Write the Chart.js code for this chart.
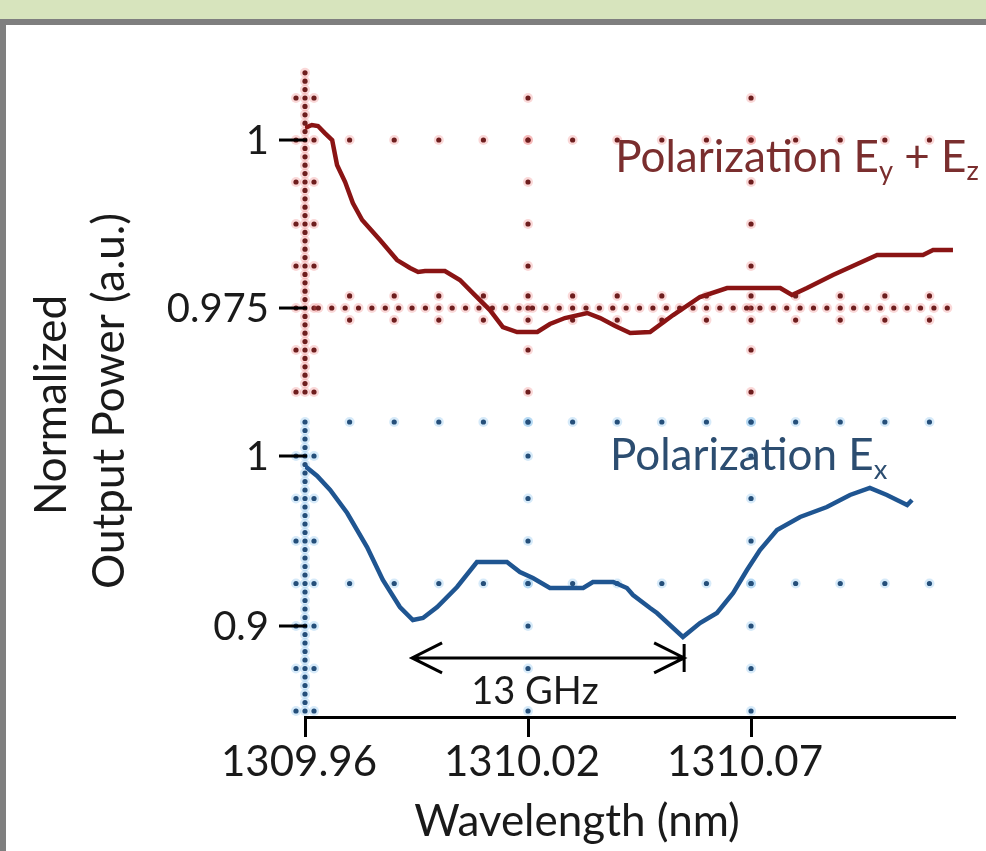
<!DOCTYPE html>
<html>
<head>
<meta charset="utf-8">
<script src="https://cdn.jsdelivr.net/npm/chart.js@4.4.1/dist/chart.umd.min.js"></script>
<style>
  html, body { margin: 0; padding: 0; }
  body { width: 986px; height: 851px; background: #d7e4bd; position: relative; overflow: hidden; }
  #frame { position: absolute; left: 0; top: 19px; right: -10px; bottom: -10px; background: #fff;
           border-top: 6px solid #7f7f7f; border-left: 6px solid #7f7f7f; }
  #wrap { position: absolute; left: 0; top: 0; width: 986px; height: 851px; }
</style>
</head>
<body>
<div id="frame"></div>
<div id="wrap"><canvas id="c" width="986" height="851"></canvas></div>
<script>
// Ausgangsleistung vs. Wellenlaenge, zwei Polarisationen

const xTickValues = [1309.96, 1310.015, 1310.07];
const xTickLabels = ['1309.96', '1310.02', '1310.07'];

const topTickValues = [1, 0.975];
const topTickLabels = ['1', '0.975'];
const botTickValues = [1, 0.9];
const botTickLabels = ['1', '0.9'];

// Polarisation Ey + Ez (rot)
const redWl = [1309.9600, 1309.9617, 1309.9632, 1309.9649, 1309.9667, 1309.9679, 1309.9699, 1309.9718,
  1309.9741, 1309.9785, 1309.9827, 1309.9859, 1309.9879, 1309.9896, 1309.9945, 1309.9982, 1310.0019,
  1310.0056, 1310.0088, 1310.0123, 1310.0173, 1310.0204, 1310.0241, 1310.0296, 1310.0328, 1310.0365,
  1310.0402, 1310.0451, 1310.0508, 1310.0574, 1310.0641, 1310.0772, 1310.0801, 1310.0838, 1310.0902,
  1310.1011, 1310.1124, 1310.1149, 1310.1198];
const redPow = [1.00179, 1.00223, 1.00208, 1.00104, 1.00000, 0.99628, 0.99375, 0.99063,
  0.98810, 0.98512, 0.98214, 0.98095, 0.98036, 0.98051, 0.98051, 0.97917, 0.97693,
  0.97470, 0.97217, 0.97143, 0.97143, 0.97262, 0.97351, 0.97426, 0.97351, 0.97232,
  0.97128, 0.97143, 0.97396, 0.97664, 0.97798, 0.97798, 0.97693, 0.97798, 0.97991,
  0.98289, 0.98289, 0.98363, 0.98363];

// Polarisation Ex (blau)
const blueWl = [1309.9600, 1309.9630, 1309.9662, 1309.9704, 1309.9753, 1309.9792, 1309.9834, 1309.9866,
  1309.9891, 1309.9926, 1309.9975, 1310.0024, 1310.0098, 1310.0130, 1310.0162, 1310.0204, 1310.0286,
  1310.0310, 1310.0360, 1310.0394, 1310.0409, 1310.0451, 1310.0468, 1310.0532, 1310.0574, 1310.0616,
  1310.0656, 1310.0690, 1310.0722, 1310.0764, 1310.0821, 1310.0887, 1310.0944, 1310.0993, 1310.1035,
  1310.1085, 1310.1097];
const bluePow = [0.99412, 0.98824, 0.98000, 0.96647, 0.94647, 0.92706, 0.91118, 0.90353,
  0.90471, 0.91118, 0.92294, 0.93765, 0.93765, 0.93176, 0.92824, 0.92235, 0.92235,
  0.92588, 0.92588, 0.92235, 0.91824, 0.91059, 0.90765, 0.89353, 0.90176, 0.90765,
  0.91941, 0.93294, 0.94471, 0.95647, 0.96412, 0.97000, 0.97706, 0.98118, 0.97706,
  0.97118, 0.97412];

// Abstand der beiden Minima
const spanFrom = 1309.9864;
const spanTo = 1310.0535;
const spanLevel = 0.8812;
const spanText = '13 GHz';
const spanTextAt = [1310.0167, 0.8612];

const topLabelAt = [1310.0365, 0.9953];
const botLabelAt = [1310.0352, 0.9918];
const xTitleAt = 1310.0271;

const FONT = 'Lato, "Open Sans", sans-serif';
const RED = '#8a1414';
const BLUE = '#1f5591';

function toPoints(xs, ys) {
    return xs.map((x, i) => ({ x: x, y: ys[i] }));
}

function dot(ctx, px, py, col, halo) {
    ctx.fillStyle = halo;
    ctx.beginPath(); ctx.arc(px, py, 5, 0, Math.PI * 2); ctx.fill();
    ctx.fillStyle = col;
    ctx.beginPath(); ctx.arc(px, py, 2.6, 0, Math.PI * 2); ctx.fill();
}

// Text mit tiefgestellten Teilen
function richText(ctx, parts, px, py, size, col) {
    let cx = px;
    ctx.fillStyle = col;
    ctx.textAlign = 'left';
    ctx.textBaseline = 'alphabetic';
    parts.forEach(p => {
        const s = p.sub ? size * 0.62 : size;
        ctx.font = s + 'px ' + FONT;
        ctx.fillText(p.t, cx, py + (p.sub ? size * 0.2 : 0));
        cx += ctx.measureText(p.t).width;
    });
}

const decor = {
    id: 'decor',
    beforeDatasetsDraw(chart) {
        const { ctx, scales } = chart;
        const x = scales.x, yT = scales.yTop, yB = scales.yBot;
        const x0 = x.min;
        ctx.save();

        // --- oberes Raster (rot) ---
        const rc = '#6e1e1e', rh = 'rgba(235,100,100,0.25)';
        for (let v = 1.0100; v >= 0.9624; v -= 0.00125) {
            dot(ctx, x.getPixelForValue(x0), yT.getPixelForValue(v), rc, rh);
        }
        for (let k = 1; k >= -6; k--) {
            const v = 1 + 0.00625 * k;
            const py = yT.getPixelForValue(v);
            const p0 = x.getPixelForValue(x0);
            dot(ctx, p0 - 9, py, rc, rh);
            dot(ctx, p0 + 9, py, rc, rh);
            [1310.015, 1310.07].forEach(g => dot(ctx, x.getPixelForValue(g), py, rc, rh));
        }
        for (let k = 1; k <= 14; k++) {
            dot(ctx, x.getPixelForValue(x0 + 0.011 * k), yT.getPixelForValue(1), rc, rh);
        }
        for (let v = x0 + 0.0033; v <= 1310.119; v += 0.0033) {
            dot(ctx, x.getPixelForValue(v), yT.getPixelForValue(0.975), rc, rh);
        }
        for (let k = 1; k <= 14; k++) {
            const px = x.getPixelForValue(x0 + 0.011 * k);
            dot(ctx, px, yT.getPixelForValue(0.975 + 0.0018), rc, rh);
            dot(ctx, px, yT.getPixelForValue(0.975 - 0.0018), rc, rh);
        }

        // --- unteres Raster (blau) ---
        const bc = '#254f7a', bh = 'rgba(90,170,230,0.25)';
        for (let v = 1.02; v >= 0.8499; v -= 0.005) {
            dot(ctx, x.getPixelForValue(x0), yB.getPixelForValue(v), bc, bh);
        }
        [1.02, 1, 0.975, 0.95, 0.925, 0.9, 0.875, 0.85].forEach((v, i) => {
            const py = yB.getPixelForValue(v);
            const p0 = x.getPixelForValue(x0);
            if (i > 0) { dot(ctx, p0 - 9, py, bc, bh); dot(ctx, p0 + 9, py, bc, bh); }
            [1310.015, 1310.07].forEach(g => dot(ctx, x.getPixelForValue(g), py, bc, bh));
        });
        for (let k = 1; k <= 14; k++) {
            const px = x.getPixelForValue(x0 + 0.011 * k);
            dot(ctx, px, yB.getPixelForValue(1.02), bc, bh);
            dot(ctx, px, yB.getPixelForValue(0.925), bc, bh);
        }
        ctx.restore();
    },
    afterDraw(chart) {
        const { ctx, chartArea, scales } = chart;
        const x = scales.x, yT = scales.yTop, yB = scales.yBot;
        ctx.save();

        // y-Ticks beider Felder
        ctx.strokeStyle = '#000';
        ctx.lineWidth = 3;
        ctx.fillStyle = '#1a1a1a';
        ctx.font = '40px ' + FONT;
        ctx.textAlign = 'right';
        ctx.textBaseline = 'middle';
        [[yT, topTickValues, topTickLabels], [yB, botTickValues, botTickLabels]].forEach(([s, vals, labs]) => {
            vals.forEach((v, i) => {
                const py = s.getPixelForValue(v);
                ctx.beginPath();
                ctx.moveTo(chartArea.left - 26, py);
                ctx.lineTo(chartArea.left + 2, py);
                ctx.stroke();
                ctx.fillText(labs[i], chartArea.left - 36, py + 1);
            });
        });

        // y-Achsentitel
        ctx.save();
        ctx.translate(52, 405);
        ctx.rotate(-Math.PI / 2);
        ctx.textAlign = 'center';
        ctx.font = '44px ' + FONT;
        ctx.fillText('Normalized', 0, 0);
        ctx.fillText('Output Power (a.u.)', 4, 58, 385);
        ctx.restore();

        // x-Achsentitel
        ctx.font = '44px ' + FONT;
        ctx.textAlign = 'center';
        ctx.textBaseline = 'middle';
        ctx.fillText('Wavelength (nm)', x.getPixelForValue(xTitleAt), 822);

        // Legendentexte
        richText(ctx, [{ t: 'Polarization E' }, { t: 'y', sub: true }, { t: ' + E' }, { t: 'z', sub: true }],
            x.getPixelForValue(topLabelAt[0]), yT.getPixelForValue(topLabelAt[1]), 44, '#7a2e2e');
        richText(ctx, [{ t: 'Polarization E' }, { t: 'x', sub: true }],
            x.getPixelForValue(botLabelAt[0]), yB.getPixelForValue(botLabelAt[1]), 44, '#2c4d70');

        // Pfeil 13 GHz
        const a = x.getPixelForValue(spanFrom), b = x.getPixelForValue(spanTo);
        const ay = yB.getPixelForValue(spanLevel);
        ctx.strokeStyle = '#000';
        ctx.lineWidth = 3;
        ctx.beginPath();
        ctx.moveTo(a, ay); ctx.lineTo(b, ay);
        ctx.moveTo(a + 30, ay - 15); ctx.lineTo(a, ay); ctx.lineTo(a + 30, ay + 15);
        ctx.moveTo(b - 30, ay - 15); ctx.lineTo(b, ay); ctx.lineTo(b - 30, ay + 15);
        ctx.moveTo(b, ay - 14); ctx.lineTo(b, ay + 14);
        ctx.stroke();
        ctx.fillStyle = '#1a1a1a';
        ctx.font = '38px ' + FONT;
        ctx.textAlign = 'center';
        ctx.textBaseline = 'middle';
        ctx.fillText(spanText, x.getPixelForValue(spanTextAt[0]), yB.getPixelForValue(spanTextAt[1]));
        ctx.restore();
    }
};

new Chart(document.getElementById('c').getContext('2d'), {
    type: 'line',
    data: {
        datasets: [
            {
                label: 'Polarization Ey + Ez',
                data: toPoints(redWl, redPow),
                yAxisID: 'yTop',
                borderColor: RED,
                borderWidth: 4.5,
                pointRadius: 0,
                tension: 0
            },
            {
                label: 'Polarization Ex',
                data: toPoints(blueWl, bluePow),
                yAxisID: 'yBot',
                borderColor: BLUE,
                borderWidth: 4.5,
                pointRadius: 0,
                tension: 0
            }
        ]
    },
    options: {
        responsive: false,
        animation: false,
        layout: { padding: { left: 305, right: 31, top: 70, bottom: 0 } },
        plugins: { legend: { display: false }, tooltip: { enabled: false } },
        scales: {
            x: {
                type: 'linear',
                min: 1309.96,
                max: 1310.1203,
                afterBuildTicks: s => { s.ticks = xTickValues.map(v => ({ value: v })); },
                afterFit: s => { s.height = 134; },
                ticks: {
                    callback: (v, i) => xTickLabels[i],
                    font: { family: FONT, size: 42 },
                    color: '#1a1a1a',
                    padding: 0,
                    labelOffset: -6,
                    autoSkip: false,
                    maxRotation: 0
                },
                grid: { drawOnChartArea: false, tickLength: 20, tickWidth: 3, color: '#000' },
                border: { color: '#000', width: 3 }
            },
            yTop: { type: 'linear', display: false, min: 0.91414, max: 1.01042 },
            yBot: { type: 'linear', display: false, min: 0.84647, max: 1.22706 }
        }
    },
    plugins: [decor]
});
</script>
</body>
</html>
